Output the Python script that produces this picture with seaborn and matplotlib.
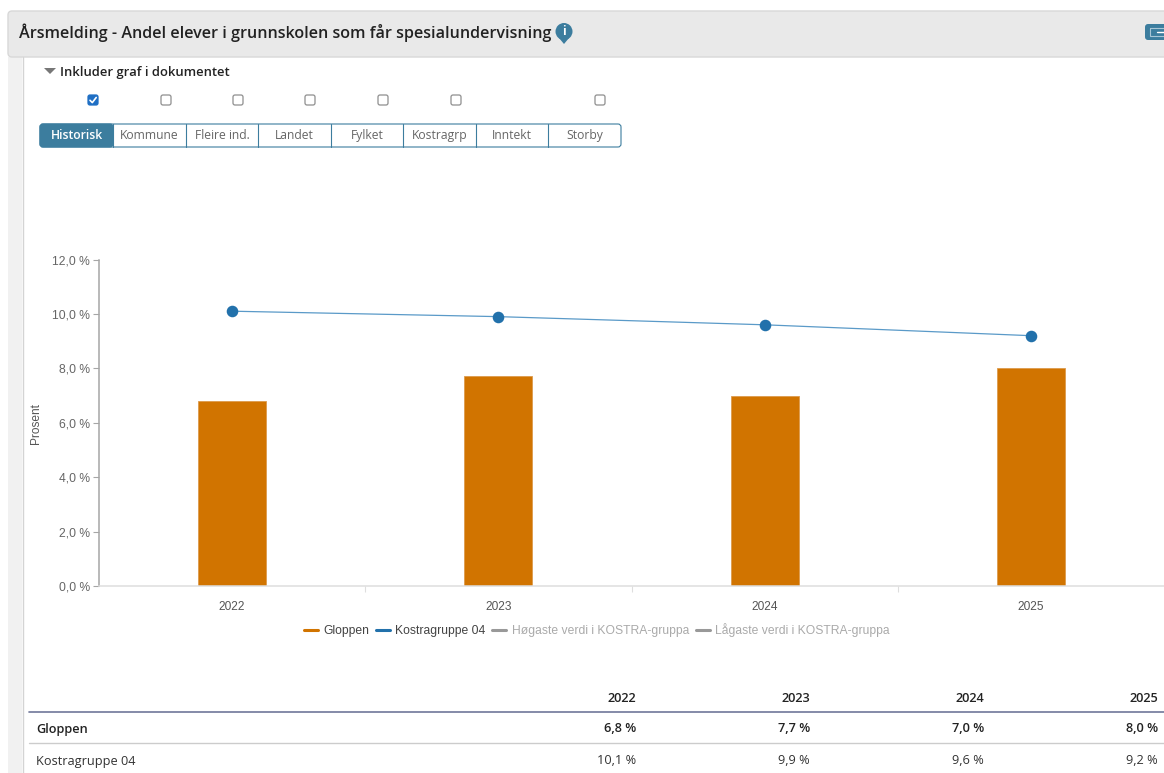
# plot.py - Årsmelding, andel elever med spesialundervisning

import pandas as pd
import seaborn as sns
import matplotlib.pyplot as plt
from matplotlib.lines import Line2D
from matplotlib.patches import FancyBboxPatch, Polygon, Rectangle, Circle

# Data
aar = ["2022", "2023", "2024", "2025"]
gloppen = [6.8, 7.7, 7.0, 8.0]
kostra = [10.1, 9.9, 9.6, 9.2]
y_ticks = [0, 2, 4, 6, 8, 10, 12]
legend_labels = ["Gloppen", "Kostragruppe 04", "Høgaste verdi i KOSTRA-gruppa",
                 "Lågaste verdi i KOSTRA-gruppa"]
tab_labels = ["Historisk", "Kommune", "Fleire ind.", "Landet", "Fylket",
              "Kostragrp", "Inntekt", "Storby"]
tittel = "Årsmelding - Andel elever i grunnskolen som får spesialundervisning"

ORANGE = "#d17400"
BLUE = "#2271ab"
TEAL = "#3c7d9e"
W, H = 1164, 773

df = pd.DataFrame({"aar": aar, "gloppen": gloppen, "kostra": kostra})


def komma(v):
    return f"{v:.1f} %".replace(".", ",")


sns.set_theme(style="white")
plt.rcParams["font.family"] = ["Liberation Sans", "DejaVu Sans"]
fig = plt.figure(figsize=(W / 100, H / 100), dpi=100)

# 1) Bakgrunn i pikselkoordinater: topplinje, avkryssing, faner og tabell
bg = fig.add_axes([0, 0, 1, 1], zorder=0)
bg.set_xlim(0, W)
bg.set_ylim(H, 0)
bg.axis("off")

UI = ["Open Sans", "DejaVu Sans"]
bg.add_patch(Rectangle((8, 57), 14, H - 57, fc="#f1f1f1", ec="none"))
bg.plot([23, 23], [57, H], color="#d4d4d4", lw=1)
bg.add_patch(FancyBboxPatch((8, 11), W, 46, boxstyle="round,pad=0,rounding_size=4",
                            fc="#e9e9e9", ec="#d8d8d8", lw=1))
bg.text(19, 32.5, tittel, family=UI, fontsize=11.6, weight="semibold",
        color="#222222", va="center")
bg.add_patch(Circle((564, 31.5), 8.5, fc=TEAL, ec="none"))
bg.add_patch(Polygon([[559, 38], [569, 38], [564, 44]], fc=TEAL, ec="none"))
bg.text(564, 31.5, "i", family=UI, fontsize=8.5, weight="bold", color="white",
        ha="center", va="center")
bg.add_patch(FancyBboxPatch((1145, 24), 30, 16, boxstyle="round,pad=0,rounding_size=3",
                            fc=TEAL, ec="none"))
bg.add_patch(Rectangle((1150, 28), 20, 8, fc="none", ec="#a8c6d6", lw=0.8))
bg.plot([1157, 1164], [32, 32], color="white", lw=1)

bg.add_patch(Polygon([[44, 68], [56, 68], [50, 74]], fc="#777777", ec="none"))
bg.text(60, 72.5, "Inkluder graf i dokumentet", family=UI, fontsize=9.4,
        weight="semibold", color="#222222", va="center")

for i, cx in enumerate([93, 166, 238, 310, 383, 456, 600]):
    on = i == 0
    bg.add_patch(FancyBboxPatch((cx - 5, 95), 10, 10, boxstyle="round,pad=0,rounding_size=2",
                                fc="#1f6fc4" if on else "white",
                                ec="#1f6fc4" if on else "#8f8f8f", lw=0.9))
    if on:
        bg.plot([cx - 3, cx - 0.7, cx + 3.2], [100.3, 102.6, 97.5], color="white", lw=1.2)

kanter = [40, 113, 186, 258, 331, 403, 476, 548, 621]
bg.add_patch(FancyBboxPatch((40, 124), 581, 23, boxstyle="round,pad=0,rounding_size=3",
                            fc="white", ec=TEAL, lw=0.8))
bg.add_patch(FancyBboxPatch((40, 124), 73, 23, boxstyle="round,pad=0,rounding_size=3",
                            fc=TEAL, ec=TEAL, lw=0.8))
for i, navn in enumerate(tab_labels):
    bg.text((kanter[i] + kanter[i + 1]) / 2, 135.5, navn, family=UI, fontsize=8.7,
            ha="center", va="center", weight="semibold" if i == 0 else "normal",
            color="white" if i == 0 else "#666666")
    if i > 0:
        bg.plot([kanter[i]] * 2, [124, 147], color=TEAL, lw=0.8)

# tabell under grafen
kol_x = [636, 810, 984, 1158]
bg.plot([29, W], [712, 712], color="#6f7799", lw=1.2)
bg.plot([29, W], [743, 743], color="#cccccc", lw=1)
bg.text(36, 729, "Gloppen", family=UI, fontsize=9.2, weight="semibold", color="#222222", va="center")
bg.text(36, 761, "Kostragruppe 04", family=UI, fontsize=9.2, color="#333333", va="center")
for x, a, g, k in zip(kol_x, aar, gloppen, kostra):
    bg.text(x, 698, a, family=UI, fontsize=9.2, weight="semibold", color="#222222", ha="right", va="center")
    bg.text(x, 729, komma(g), family=UI, fontsize=9.2, weight="semibold", color="#222222", ha="right", va="center")
    bg.text(x, 761, komma(k), family=UI, fontsize=9.2, color="#333333", ha="right", va="center")

# 2) Selve grafen
ax = fig.add_axes([99 / W, 1 - 586 / H, (W - 99) / W, (586 - 259.5) / H], zorder=1)
ax.patch.set_alpha(0)
sns.barplot(data=df, x="aar", y="gloppen", color=ORANGE, saturation=1, width=0.255,
            edgecolor="#dd9a4c", linewidth=0.6, ax=ax)
sns.lineplot(data=df, x="aar", y="kostra", color="#5a9ac8", linewidth=0.9, ax=ax)
sns.pointplot(data=df, x="aar", y="kostra", color=BLUE, markersize=6.3, linestyle="none", ax=ax)

ax.set_xlim(-0.5, 3.5)
ax.set_ylim(0, 12)
ax.set_yticks(y_ticks)
ax.set_yticklabels([komma(v) for v in y_ticks])
ax.set_xlabel("")
ax.set_ylabel("")
fig.text(36 / W, 1 - 424 / H, "Prosent", rotation=90, fontsize=8.6, color="#555555",
         ha="center", va="center")

for s in ["top", "right"]:
    ax.spines[s].set_visible(False)
ax.spines["left"].set_color("#a6a6a6")
ax.spines["left"].set_linewidth(1.1)
ax.spines["bottom"].set_color("#dedede")
ax.spines["bottom"].set_linewidth(1.1)
ax.tick_params(axis="y", length=4.5, width=0.8, color="#a6a6a6", labelsize=8.7,
               labelcolor="#666666", pad=2, left=True)
ax.tick_params(axis="x", length=0, labelsize=8.6, labelcolor="#555555", pad=11)
ax.set_xticks([0.5, 1.5, 2.5], minor=True)
ax.tick_params(axis="x", which="minor", length=4.5, width=0.8, color="#dedede", bottom=True)

# 3) Tegnforklaring
handles = [Line2D([], [], color=c, lw=2.2) for c in [ORANGE, BLUE, "#999999", "#999999"]]
leg = fig.legend(handles, legend_labels, loc="center", bbox_to_anchor=(597 / W, 1 - 630 / H),
                 ncol=4, frameon=False, fontsize=8.7, handlelength=1.15, handletextpad=0.45,
                 columnspacing=0.55, borderpad=0)
for t, c in zip(leg.get_texts(), ["#444444", "#444444", "#aaaaaa", "#aaaaaa"]):
    t.set_color(c)

plt.savefig("out.png", dpi=100)
